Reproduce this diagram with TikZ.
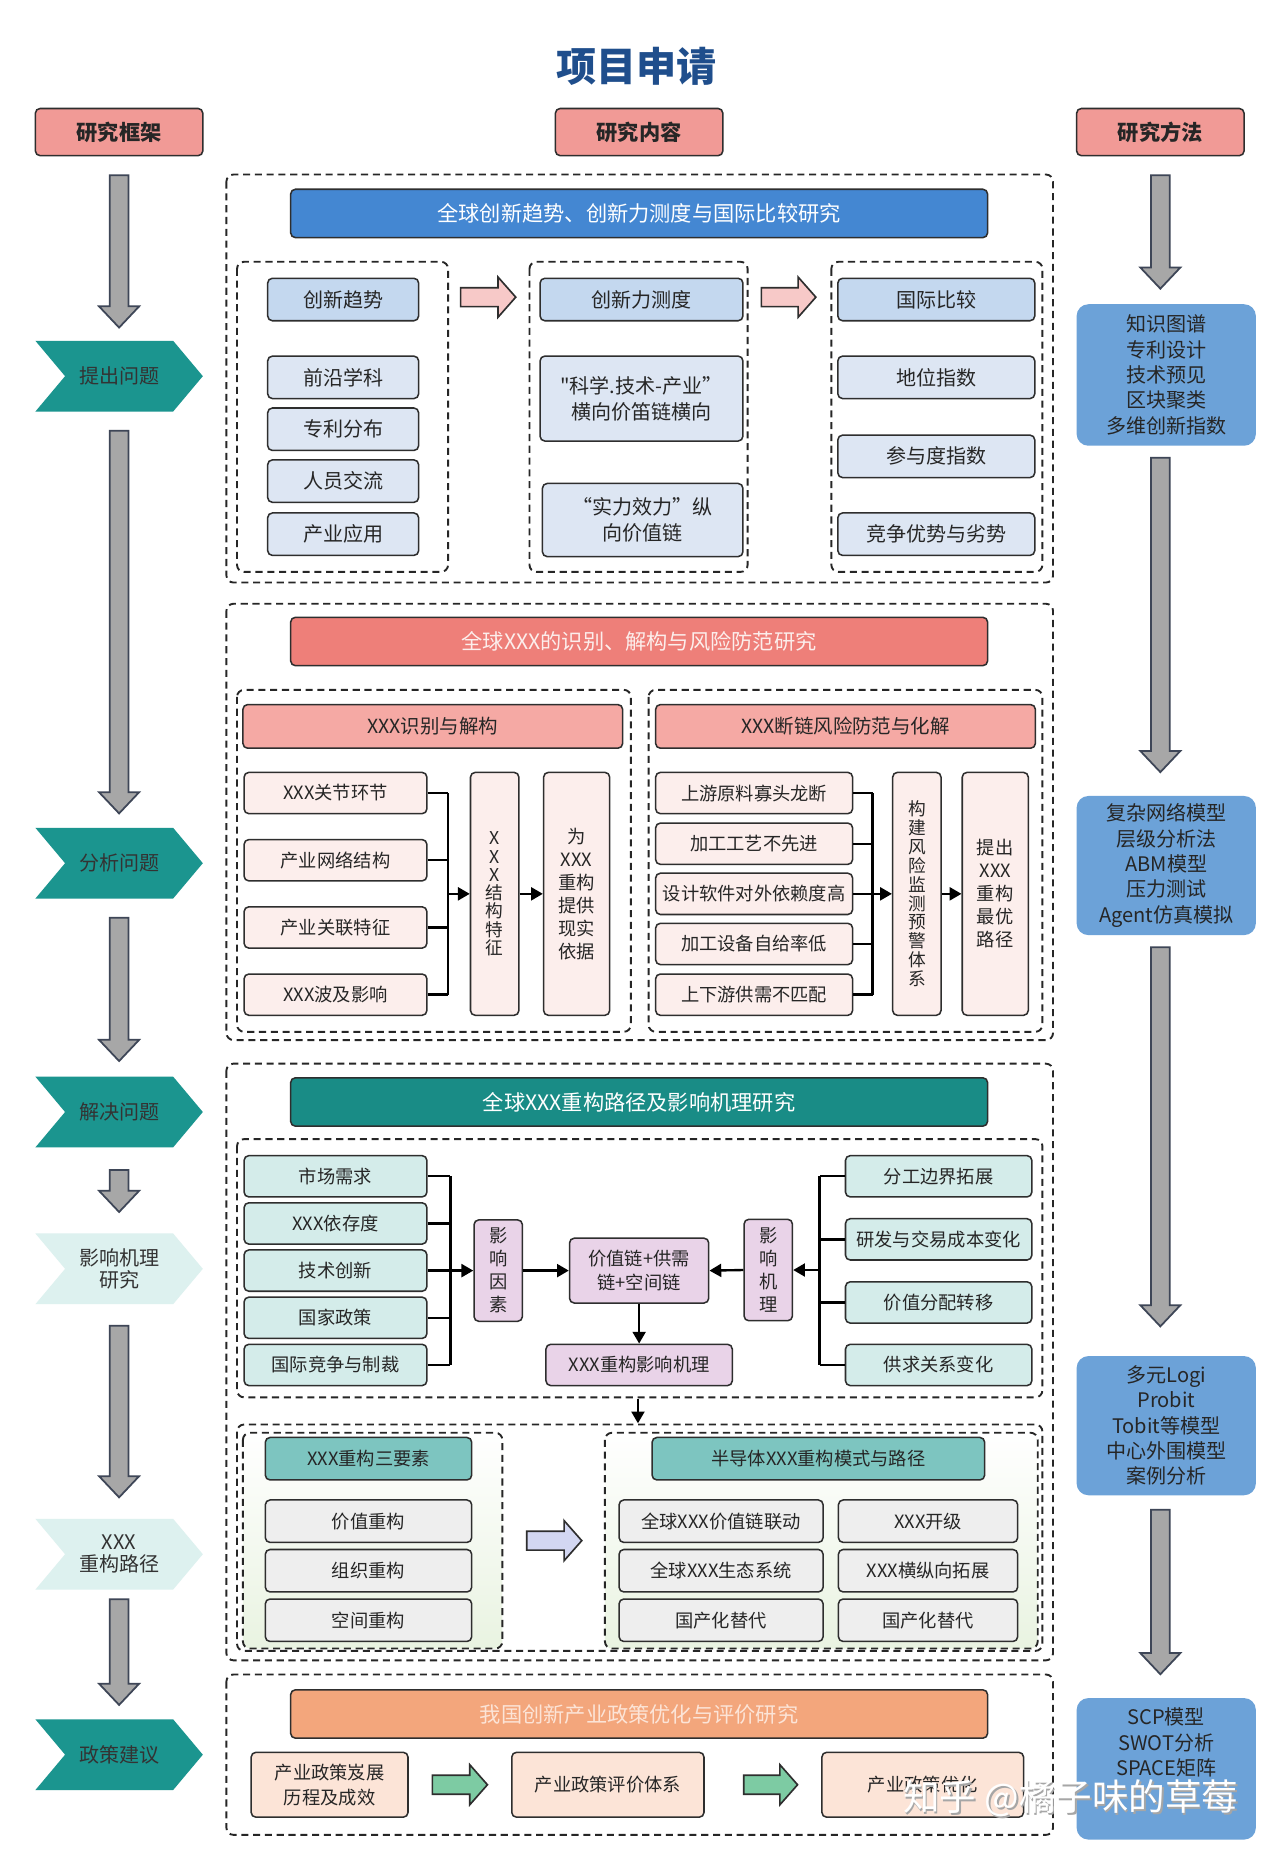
\documentclass[tikz,border=0pt]{standalone}
\usepackage{fontspec}
\setmainfont{Noto Sans CJK SC}
\usetikzlibrary{arrows.meta,calc,shapes.symbols}

\definecolor{hdred}{HTML}{F19A96}
\definecolor{titleblue}{HTML}{1F4E8C}
\definecolor{edge}{HTML}{2E2E2E}
\definecolor{bannerblue}{HTML}{4487D2}
\definecolor{headblue}{HTML}{C4D8EF}
\definecolor{itemblue}{HTML}{DDE6F3}
\definecolor{arrowpink}{HTML}{F7C9C8}
\definecolor{bannercoral}{HTML}{EE7F79}
\definecolor{headpink}{HTML}{F5A9A4}
\definecolor{itempink}{HTML}{FCEEEC}
\definecolor{bannerteal}{HTML}{198C86}
\definecolor{itemteal}{HTML}{D4ECEA}
\definecolor{lilac}{HTML}{E9D3E8}
\definecolor{headteal}{HTML}{7DC5C0}
\definecolor{itemgray}{HTML}{EEEEEE}
\definecolor{arrowlav}{HTML}{D3D7F2}
\definecolor{bannerorange}{HTML}{F3A67C}
\definecolor{itempeach}{HTML}{FCE4D7}
\definecolor{arrowgreen}{HTML}{7DCBA3}
\definecolor{chevteal}{HTML}{1B958F}
\definecolor{chevlight}{HTML}{DDF1EF}
\definecolor{methodblue}{HTML}{6CA2D8}
\definecolor{arrowgray}{HTML}{A7A7A7}
\definecolor{arrowedge}{HTML}{3E4657}
\definecolor{paleleaf}{HTML}{E9F3E1}

% grey block arrow pointing down: start point, tip point
\newcommand{\blockdown}[2]{%
  \draw[grayarr] let \p1=#1, \p2=#2 in
    (\x1-8pt,\y1) -- (\x1+8pt,\y1) -- (\x1+8pt,\y2+18pt) -- (\x1+17pt,\y2+18pt)
    -- (\x1,\y2) -- (\x1-17pt,\y2+18pt) -- (\x1-8pt,\y2+18pt) -- cycle;}
% block arrow pointing right: start point, tip point, fill
\newcommand{\blockright}[3]{%
  \draw[blockarr,fill=#3] let \p1=#1, \p2=#2 in
    (\x1,\y1+8pt) -- (\x2-15pt,\y1+8pt) -- (\x2-15pt,\y1+17pt) -- (\x2,\y1)
    -- (\x2-15pt,\y1-17pt) -- (\x2-15pt,\y1-8pt) -- (\x1,\y1-8pt) -- cycle;}

\begin{document}
\begin{tikzpicture}[x=1pt,y=-1pt,
  box/.style={draw=edge,line width=1.3pt,rounded corners=4pt,align=center,inner sep=1pt,
    text=black!85,font=\fontsize{15.5}{19}\selectfont},
  banner/.style={box,minimum width=591,minimum height=41,font=\fontsize{18}{21}\selectfont},
  vbox/.style={box,minimum height=206},
  dashbox/.style={draw=black!85,line width=1.6pt,dash pattern=on 6pt off 4pt,rounded corners=6pt},
  conn/.style={draw=black,line width=2pt},
  arr/.style={conn,-{Triangle[length=10pt,width=11pt]}},
  chev/.style={shape=signal,signal from=west,signal to=east,signal pointer angle=100,
    minimum width=142,minimum height=60,inner sep=0pt,align=center,
    font=\fontsize{17}{19}\selectfont,text=black!80},
  grayarr/.style={fill=arrowgray,draw=arrowedge,line width=1.5pt},
  blockarr/.style={draw=edge,line width=1.4pt},
  method/.style={fill=methodblue,rounded corners=10pt,minimum width=152,align=center,
    font=\fontsize{17}{21.5}\selectfont,text=black!85}]

\fill[white] (0,0) rectangle (1085,1568);
\useasboundingbox (0,0) rectangle (1085,1568);

% title and column heads
\node[font=\fontsize{34}{36}\selectfont\bfseries,text=titleblue] (title) at (540,56) {项目申请};
\node[box,fill=hdred,minimum width=142,minimum height=40,font=\fontsize{18}{20}\selectfont\bfseries] (hd1) at (101,112) {研究框架};
\node[box,fill=hdred,minimum width=142,minimum height=40,font=\fontsize{18}{20}\selectfont\bfseries] (hd2) at (542,112) {研究内容};
\node[box,fill=hdred,minimum width=142,minimum height=40,font=\fontsize{18}{20}\selectfont\bfseries] (hd3) at (984,112) {研究方法};

% left column: framework
\node[chev,fill=chevteal] (c1) at (101,319) {提出问题};
\node[chev,fill=chevteal] (c2) at (101,732) {分析问题};
\node[chev,fill=chevteal] (c3) at (101,943) {解决问题};
\node[chev,fill=chevlight] (c4) at (101,1076) {影响机理\\研究};
\node[chev,fill=chevlight] (c5) at (101,1318) {XXX\\重构路径};
\node[chev,fill=chevteal] (c6) at (101,1488) {政策建议};

\blockdown{($(hd1.south)+(0,16)$)}{($(hd1.south |- c1.north)+(0,-11)$)}
\blockdown{($(c1.south)+(0,16)$)}{($(c1.south |- c2.north)+(0,-12)$)}
\blockdown{($(c2.south)+(0,16)$)}{($(c2.south |- c3.north)+(0,-13)$)}
\blockdown{($(c3.south)+(0,19)$)}{($(c3.south |- c4.north)+(0,-18)$)}
\blockdown{($(c4.south)+(0,18)$)}{($(c4.south |- c5.north)+(0,-18)$)}
\blockdown{($(c5.south)+(0,8)$)}{($(c5.south |- c6.north)+(0,-12)$)}

% right column: methods
\node[method,minimum height=120] (m1) at (989,318) {知识图谱\\专利设计\\技术预见\\区块聚类\\多维创新指数};
\node[method,minimum height=118] (m2) at (989,734) {复杂网络模型\\层级分析法\\ABM模型\\压力测试\\Agent仿真模拟};
\node[method,minimum height=118] (m3) at (989,1209) {多元Logi\\Probit\\Tobit等模型\\中心外围模型\\案例分析};
\node[method,minimum height=120,text depth=46pt] (m4) at (989,1500) {SCP模型\\SWOT分析\\SPACE矩阵};

\blockdown{($(hd3.south)+(0,16)$)}{($(hd3.south |- m1.north)+(0,-13)$)}
\blockdown{($(hd3.south |- m1.south)+(0,10)$)}{($(hd3.south |- m2.north)+(0,-20)$)}
\blockdown{($(hd3.south |- m2.south)+(0,10)$)}{($(hd3.south |- m3.north)+(0,-25)$)}
\blockdown{($(hd3.south |- m3.south)+(0,12)$)}{($(hd3.south |- m4.north)+(0,-20)$)}

% section 1
\draw[dashbox] (192,148) rectangle (893,494);
\node[banner,fill=bannerblue,text=white] (b1) at (542,181) {全球创新趋势、创新力测度与国际比较研究};
\draw[dashbox] (201,222) rectangle (380,485);
\draw[dashbox] (449,222) rectangle (634,485);
\draw[dashbox] (705,222) rectangle (884,485);

\node[box,fill=headblue,minimum width=128,minimum height=36,font=\fontsize{17}{20}\selectfont] (n11) at (291,254) {创新趋势};
\node[box,fill=itemblue,minimum width=128,minimum height=36,font=\fontsize{17}{20}\selectfont] (n12) at (291,320) {前沿学科};
\node[box,fill=itemblue,minimum width=128,minimum height=36,font=\fontsize{17}{20}\selectfont] (n13) at (291,364) {专利分布};
\node[box,fill=itemblue,minimum width=128,minimum height=36,font=\fontsize{17}{20}\selectfont] (n14) at (291,408) {人员交流};
\node[box,fill=itemblue,minimum width=128,minimum height=36,font=\fontsize{17}{20}\selectfont] (n15) at (291,453) {产业应用};

\node[box,fill=headblue,minimum width=172,minimum height=36,font=\fontsize{17}{20}\selectfont] (n21) at (544,254) {创新力测度};
\node[box,fill=itemblue,minimum width=172,minimum height=72,font=\fontsize{17}{22}\selectfont] (n22) at (544,338) {\textquotedbl 科学.技术-产业”\\横向价笛链横向};
\node[box,fill=itemblue,minimum width=170,minimum height=62,font=\fontsize{17}{22}\selectfont] (n23) at (545,441) {“实力效力”纵\\向价值链};

\node[box,fill=headblue,minimum width=167,minimum height=36,font=\fontsize{17}{20}\selectfont] (n31) at (794,254) {国际比较};
\node[box,fill=itemblue,minimum width=167,minimum height=36,font=\fontsize{17}{20}\selectfont] (n32) at (794,320) {地位指数};
\node[box,fill=itemblue,minimum width=167,minimum height=36,font=\fontsize{17}{20}\selectfont] (n33) at (794,387) {参与度指数};
\node[box,fill=itemblue,minimum width=167,minimum height=36,font=\fontsize{17}{20}\selectfont] (n34) at (794,453) {竞争优势与劣势};

\blockright{($(n11.east)+(35,-2)$)}{($(n21.west)+(-20,-2)$)}{arrowpink}
\blockright{($(n21.east)+(15,-2)$)}{($(n31.west)+(-18,-2)$)}{arrowpink}

% section 2
\draw[dashbox] (192,512) rectangle (893,882);
\node[banner,fill=bannercoral,text=itempink] (b2) at (542,544) {全球XXX的识别、解构与风险防范研究};
\draw[dashbox] (201,585) rectangle (535,875);
\draw[dashbox] (550,585) rectangle (884,875);
\node[box,fill=headpink,minimum width=322,minimum height=37,font=\fontsize{16.5}{20}\selectfont] (h21) at (367,616) {XXX识别与解构};
\node[box,fill=headpink,minimum width=322,minimum height=37,font=\fontsize{16.5}{20}\selectfont] (h22) at (717,616) {XXX断链风险防范与化解};

\node[box,fill=itempink,minimum width=155,minimum height=35] (p1) at (284.5,672.5) {XXX关节环节};
\node[box,fill=itempink,minimum width=155,minimum height=35] (p2) at (284.5,729.5) {产业网络结构};
\node[box,fill=itempink,minimum width=155,minimum height=35] (p3) at (284.5,786.5) {产业关联特征};
\node[box,fill=itempink,minimum width=155,minimum height=35] (p4) at (284.5,843.5) {XXX波及影响};
\node[vbox,fill=itempink,minimum width=41,font=\fontsize{15}{15.5}\selectfont] (t1) at (419.5,758) {X\\X\\X\\结\\构\\特\\征};
\node[vbox,fill=itempink,minimum width=56,font=\fontsize{15.5}{19.5}\selectfont] (t2) at (489,758) {为\\XXX\\重构\\提供\\现实\\依据};

\coordinate (colA) at (380,758);
\foreach \i in {p1,p2,p3,p4} \draw[conn] (\i.east) -- (\i.east -| colA);
\draw[conn] (p1.east -| colA) -- (p4.east -| colA);
\draw[arr] (colA) -- (t1.west);
\draw[arr] (t1.east) -- (t2.west);

\node[box,fill=itempink,minimum width=167,minimum height=35] (r1) at (639.5,672.5) {上游原料寡头龙断};
\node[box,fill=itempink,minimum width=167,minimum height=35] (r2) at (639.5,715.5) {加工工艺不先进};
\node[box,fill=itempink,minimum width=167,minimum height=35] (r3) at (639.5,758) {设计软件对外依赖度高};
\node[box,fill=itempink,minimum width=167,minimum height=35] (r4) at (639.5,800.5) {加工设备自给率低};
\node[box,fill=itempink,minimum width=167,minimum height=35] (r5) at (639.5,843.5) {上下游供需不匹配};
\node[vbox,fill=itempink,minimum width=41,font=\fontsize{15}{16}\selectfont] (t3) at (777.5,758) {构\\建\\风\\险\\监\\测\\预\\警\\体\\系};
\node[vbox,fill=itempink,minimum width=56,font=\fontsize{15.5}{19.5}\selectfont] (t4) at (844,758) {提出\\XXX\\重构\\最优\\路径};

\coordinate (colB) at (740,758);
\foreach \i in {r1,r2,r3,r4,r5} \draw[conn] (\i.east) -- (\i.east -| colB);
\draw[conn] (r1.east -| colB) -- (r5.east -| colB);
\draw[arr] (colB) -- (t3.west);
\draw[arr] (t3.east) -- (t4.west);

% section 3
\draw[dashbox] (192,902) rectangle (893,1408);
\node[banner,fill=bannerteal,text=white] (b3) at (542,934.5) {全球XXX重构路径及影响机理研究};
\draw[dashbox] (201,966) rectangle (884,1185);

\node[box,fill=itemteal,minimum width=155,minimum height=35] (q1) at (284.5,997.5) {市场需求};
\node[box,fill=itemteal,minimum width=155,minimum height=35] (q2) at (284.5,1037.5) {XXX依存度};
\node[box,fill=itemteal,minimum width=155,minimum height=35] (q3) at (284.5,1077.5) {技术创新};
\node[box,fill=itemteal,minimum width=155,minimum height=35] (q4) at (284.5,1117.5) {国家政策};
\node[box,fill=itemteal,minimum width=155,minimum height=35] (q5) at (284.5,1157.5) {国际竞争与制裁};
\node[box,fill=lilac,minimum width=41,minimum height=86,font=\fontsize{15.5}{19.5}\selectfont] (f1) at (422.5,1077.5) {影\\响\\因\\素};
\node[box,fill=lilac,minimum width=118,minimum height=55,font=\fontsize{15.5}{21}\selectfont] (v1) at (542,1077.5) {价值链+供需\\链+空间链};
\node[box,fill=lilac,minimum width=41,minimum height=86,font=\fontsize{15.5}{19.5}\selectfont] (f2) at (651.5,1077) {影\\响\\机\\理};
\node[box,fill=lilac,minimum width=158,minimum height=35] (v2) at (542,1157.5) {XXX重构影响机理};

\node[box,fill=itemteal,minimum width=158,minimum height=35] (s1) at (796,997.5) {分工边界拓展};
\node[box,fill=itemteal,minimum width=158,minimum height=35] (s2) at (796,1051) {研发与交易成本变化};
\node[box,fill=itemteal,minimum width=158,minimum height=35] (s3) at (796,1104.5) {价值分配转移};
\node[box,fill=itemteal,minimum width=158,minimum height=35] (s4) at (796,1157.5) {供求关系变化};

\coordinate (colC) at (382,1077.5);
\foreach \i in {q1,q2,q3,q4,q5} \draw[conn] (\i.east) -- (\i.east -| colC);
\draw[conn] (q1.east -| colC) -- (q5.east -| colC);
\draw[arr] (colC) -- (f1.west);
\draw[arr] (f1.east) -- (v1.west);
\coordinate (colD) at (695,1077);
\foreach \i in {s1,s2,s3,s4} \draw[conn] (\i.west) -- (\i.west -| colD);
\draw[conn] (s1.west -| colD) -- (s4.west -| colD);
\draw[arr] (colD) -- (f2.east);
\draw[arr] (f2.west) -- (v1.east);
\draw[arr] (v1.south) -- (v2.north);

\coordinate (dropA) at (541,1186);
\coordinate (dropB) at (541,1207);
\draw[arr] (dropA) -- (dropB);

% lower part of section 3
\draw[dashbox] (201,1208) rectangle (884,1400);
\draw[dashbox,top color=white,bottom color=paleleaf] (206,1215) rectangle (426,1398);
\draw[dashbox,top color=white,bottom color=paleleaf] (513,1215) rectangle (880,1398);

\node[box,fill=headteal,minimum width=175,minimum height=36] (g0) at (312.5,1237) {XXX重构三要素};
\node[box,fill=itemgray,minimum width=175,minimum height=36] (g1) at (312.5,1290) {价值重构};
\node[box,fill=itemgray,minimum width=175,minimum height=36] (g2) at (312.5,1332) {组织重构};
\node[box,fill=itemgray,minimum width=175,minimum height=36] (g3) at (312.5,1374) {空间重构};

\node[box,fill=headteal,minimum width=282,minimum height=36] (k0) at (694,1237) {半导体XXX重构模式与路径};
\node[box,fill=itemgray,minimum width=173,minimum height=36] (k1) at (611.5,1290) {全球XXX价值链联动};
\node[box,fill=itemgray,minimum width=152,minimum height=36] (k2) at (787,1290) {XXX开级};
\node[box,fill=itemgray,minimum width=173,minimum height=36] (k3) at (611.5,1332) {全球XXX生态系统};
\node[box,fill=itemgray,minimum width=152,minimum height=36] (k4) at (787,1332) {XXX横纵向拓展};
\node[box,fill=itemgray,minimum width=173,minimum height=36] (k5) at (611.5,1374) {国产化替代};
\node[box,fill=itemgray,minimum width=152,minimum height=36] (k6) at (787,1374) {国产化替代};

\blockright{($(g1.east)+(46,16.5)$)}{($(k1.west)+(-31,16.5)$)}{arrowlav}

% section 4
\draw[dashbox] (192,1420) rectangle (893,1556);
\node[banner,fill=bannerorange,text=itempeach] (b4) at (542,1453.5) {我国创新产业政策优化与评价研究};
\node[box,fill=itempeach,minimum width=133,minimum height=55,font=\fontsize{15.5}{21}\selectfont] (e1) at (279.5,1513.5) {产业政策岌展\\历程及成效};
\node[box,fill=itempeach,minimum width=163,minimum height=55] (e2) at (515.5,1513.5) {产业政策评价体系};
\node[box,fill=itempeach,minimum width=171,minimum height=55] (e3) at (782.5,1513.5) {产业政策优化};

\blockright{($(e1.east)+(20,0)$)}{($(e2.west)+(-20,0)$)}{arrowgreen}
\blockright{($(e2.east)+(33,0)$)}{($(e3.west)+(-20,0)$)}{arrowgreen}

% watermark
\node[font=\fontsize{31}{34}\selectfont,text=black!35] (wmshade) at (909.5,1526.5) {知乎 @橘子味的草莓};
\node[font=\fontsize{31}{34}\selectfont,text=white] (wm) at (908,1525) {知乎 @橘子味的草莓};
\end{tikzpicture}
\end{document}
